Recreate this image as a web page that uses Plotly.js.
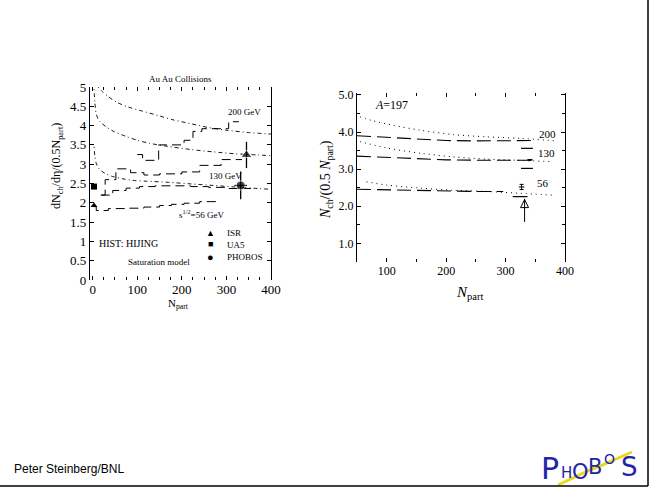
<!DOCTYPE html>
<html><head><meta charset="utf-8">
<script src="https://cdn.plot.ly/plotly-3.0.1.min.js"></script>
<style>html,body{margin:0;padding:0;background:#fff}#c{width:651px;height:488px}</style>
</head><body><div id="c"></div>
<script>
// ---------- Left panel: Au Au collisions ----------
const sat200X = [12, 20, 35, 55, 80, 110, 150, 180, 220, 260, 300, 350, 400];
const sat200Y = [5.0, 4.9, 4.75, 4.6, 4.48, 4.38, 4.25, 4.15, 4.05, 3.95, 3.88, 3.82, 3.78];
const sat130X = [3, 5, 8, 15, 30, 47, 75, 100, 128, 170, 220, 270, 320, 370, 400];
const sat130Y = [4.95, 4.6, 4.3, 4.12, 3.97, 3.85, 3.72, 3.62, 3.54, 3.46, 3.38, 3.32, 3.27, 3.24, 3.22];
const sat56X = [3, 5, 8, 13, 20, 30, 45, 68, 90, 120, 170, 220, 270, 320, 370, 400];
const sat56Y = [3.45, 3.2, 3.02, 2.9, 2.82, 2.75, 2.68, 2.62, 2.58, 2.56, 2.53, 2.49, 2.45, 2.41, 2.37, 2.35];
const hij56X = [2, 8, 35, 80, 115, 150, 177, 205, 240, 285];
const hij56Y = [1.9, 1.8, 1.85, 1.86, 1.89, 1.93, 1.96, 1.99, 2.03, 2.03];
const hijLowX = [18, 45, 75, 105, 140, 180, 220, 260, 300, 355];
const hijLowY = [2.2, 2.32, 2.38, 2.42, 2.44, 2.44, 2.42, 2.4, 2.37, 2.37];
const hij130X = [20, 28, 52, 85, 115, 150, 200, 240, 288, 335];
const hij130Y = [2.2, 2.6, 2.88, 2.78, 2.72, 2.75, 2.8, 2.97, 3.12, 3.12];
const hij200X = [100, 112, 148, 205, 225, 245, 305, 328];
const hij200Y = [3.25, 3.1, 3.5, 3.62, 3.85, 3.92, 4.1, 4.1];
const isrX = [3], isrY = [1.93];
const ua5X = [3], ua5Y = [2.42];
const phobosX = [345, 332], phobosY = [3.24, 2.45], phobosErrY = [0.34, 0.36], phobosErrX = [0, 14];
const leftXTicks = [0, 100, 200, 300, 400];

// ---------- Right panel: A = 197 ----------
const rSat200X = [55, 77, 111, 156, 212, 268, 324, 386];
const rSat200Y = [4.41, 4.3, 4.18, 4.05, 3.93, 3.87, 3.83, 3.76];
const rSat130X = [55, 100, 156, 212, 268, 318, 380];
const rSat130Y = [3.74, 3.57, 3.43, 3.33, 3.27, 3.24, 3.2];
const rSat56X = [66, 100, 156, 212, 268, 324, 380];
const rSat56Y = [2.66, 2.57, 2.49, 2.43, 2.4, 2.35, 2.3];
const rD200X = [50, 100, 150, 200, 250, 300, 346];
const rD200Y = [3.9, 3.85, 3.8, 3.77, 3.76, 3.76, 3.77];
const rD130X = [50, 100, 150, 200, 250, 300, 346];
const rD130Y = [3.35, 3.31, 3.28, 3.25, 3.24, 3.24, 3.24];
const rD56X = [50, 100, 150, 200, 250, 296];
const rD56Y = [2.46, 2.44, 2.42, 2.41, 2.4, 2.4];
const rBandX = [326, 346];
const rBand130Top = [3.56, 3.56], rBand130Bot = [3.02, 3.02];
const rBand56X = [312, 337], rBand56Y = [2.26, 2.26];
const rPointX = [341, 327], rPointY = [3.25, 2.52], rPointErr = [0, 0.07];
const arrowX = [332, 332], arrowY = [1.58, 2.2];
const arrowHeadX = [332], arrowHeadY = [2.18];
const energyLabels = ['200', '130', '56'];

const F = 'Liberation Serif, Times New Roman, serif';
const W = 651, H = 488;
const px = v => v / W, py = v => 1 - v / H;

function line(x, y, xa, ya, dash, width, shape) {
  return {x, y, xaxis: xa, yaxis: ya, type: 'scatter', mode: 'lines', hoverinfo: 'skip',
    line: {color: '#000', width: width || 1, dash: dash || 'solid', shape: shape || 'linear', smoothing: 0.8}};
}
const sd = '1px,3px,4px,3px';
const traces = [
  line(sat200X, sat200Y, 'x', 'y', sd, 0.9, 'spline'),
  line(sat130X, sat130Y, 'x', 'y', sd, 0.9, 'spline'),
  line(sat56X, sat56Y, 'x', 'y', sd, 0.9, 'spline'),
  line(hij56X, hij56Y, 'x', 'y', '9px,5px', 1, 'hv'),
  line(hijLowX, hijLowY, 'x', 'y', '9px,5px', 1, 'hv'),
  line(hij130X, hij130Y, 'x', 'y', '9px,5px', 1, 'hv'),
  line(hij200X, hij200Y, 'x', 'y', '9px,5px', 1, 'hv'),
  {x: isrX, y: isrY, type: 'scatter', mode: 'markers', marker: {symbol: 'triangle-up', size: 6, color: '#000'}},
  {x: ua5X, y: ua5Y, type: 'scatter', mode: 'markers', marker: {symbol: 'square', size: 6, color: '#000'}},
  {x: phobosX, y: phobosY, type: 'scatter', mode: 'markers',
    marker: {symbol: ['triangle-up', 'circle'], size: [10, 9], color: '#000'},
    error_y: {type: 'data', array: phobosErrY, visible: true, color: '#000', thickness: 1.3, width: 0},
    error_x: {type: 'data', array: phobosErrX, visible: true, color: '#000', thickness: 1.3, width: 0}},
  // right
  line(rSat200X, rSat200Y, 'x2', 'y2', '1px,4px', 1, 'spline'),
  line(rSat130X, rSat130Y, 'x2', 'y2', '1px,4px', 1, 'spline'),
  line(rSat56X, rSat56Y, 'x2', 'y2', '1px,4px', 1, 'spline'),
  line(rD200X, rD200Y, 'x2', 'y2', '14px,6px', 1.1),
  line(rD130X, rD130Y, 'x2', 'y2', '14px,6px', 1.1),
  line(rD56X, rD56Y, 'x2', 'y2', '14px,6px', 1.1),
  line(rBandX, rBand130Top, 'x2', 'y2', 'solid', 1.2),
  line(rBandX, rBand130Bot, 'x2', 'y2', 'solid', 1.2),
  line(rBand56X, rBand56Y, 'x2', 'y2', 'solid', 1.2),
  {x: rPointX, y: rPointY, xaxis: 'x2', yaxis: 'y2', type: 'scatter', mode: 'markers',
    marker: {symbol: 'line-ew', size: 4, color: '#000', line: {width: 1, color: '#000'}},
    error_y: {type: 'data', array: rPointErr, visible: true, color: '#000', thickness: 1, width: 2}},
  line(arrowX, arrowY, 'x2', 'y2', 'solid', 1),
  {x: arrowHeadX, y: arrowHeadY, xaxis: 'x2', yaxis: 'y2', type: 'scatter', mode: 'markers',
    marker: {symbol: 'arrow-up-open', size: 8, color: '#000', line: {width: 1, color: '#000'}}}
];

const ann = [];
function T(text, x, y, size, opt) {
  ann.push(Object.assign({text, x: px(x), y: py(y), xref: 'paper', yref: 'paper', showarrow: false,
    font: {family: F, size: size, color: '#000'}, xanchor: 'center', yanchor: 'middle'}, opt || {}));
}
T('Au Au Collisions', 180, 79, 9);
T('200 GeV', 244, 112, 9);
T('130 GeV', 226, 176, 9);
T('s<sup>1/2</sup>=56 GeV', 201, 214, 9);
T('HIST: HIJING', 128, 243, 10);
T('Saturation model', 159, 262, 9);
T('▲', 210, 233, 9); T('ISR', 225, 233, 9, {xanchor: 'left'});
T('■', 210, 244, 9); T('UA5', 225, 245, 9, {xanchor: 'left'});
T('●', 210, 257, 11); T('PHOBOS', 225, 257, 9, {xanchor: 'left'});
T('dN<sub>ch</sub>/dη/(0.5N<sub>part</sub>)', 57, 166, 12, {textangle: -90});
T('N<sub>part</sub>', 178, 304, 11);
// right panel
T('<i>A</i>=197', 391, 105, 12);
T(energyLabels[0], 547, 134, 11);
T(energyLabels[1], 546, 153, 11);
T(energyLabels[2], 543, 183, 11);
T('<i>N</i><sub>ch</sub>/(0.5 <i>N</i><sub>part</sub>)', 326, 180, 14, {textangle: -90});
T('<i>N</i><sub>part</sub>', 470, 293, 15);
// footer
ann.push({text: 'Peter Steinberg/BNL', x: px(12), y: py(469), xref: 'paper', yref: 'paper', showarrow: false,
  xanchor: 'left', yanchor: 'middle', font: {family: 'Liberation Sans, Arial, sans-serif', size: 12, color: '#000'}});
// logo letters
const logo = [['P', 550, 468, 30], ['H', 566, 473, 15], ['O', 580, 472, 21], ['B', 595, 467, 21], ['O', 609, 459, 14], ['S', 629, 467, 26]];
logo.forEach(l => ann.push({text: l[0], x: px(l[1]), y: py(l[2]), xref: 'paper', yref: 'paper', showarrow: false,
  xanchor: 'center', yanchor: 'middle', font: {family: 'DejaVu Sans, sans-serif', size: l[3], color: '#2424a8'}}));

const shapes = [
  {type: 'line', xref: 'paper', yref: 'paper', x0: px(648), x1: px(648), y0: py(0), y1: py(486), line: {color: '#000', width: 1.5}},
  {type: 'line', xref: 'paper', yref: 'paper', x0: px(0), x1: px(648), y0: py(486), y1: py(486), line: {color: '#000', width: 1.5}},
  {type: 'path', xref: 'paper', yref: 'paper', layer: 'below',
    path: `M ${px(558)} ${py(485)} L ${px(590)} ${py(470)} L ${px(600)} ${py(466)} L ${px(632)} ${py(452)}`,
    line: {color: '#e8d820', width: 3}}
];

const ax = (o) => Object.assign({showgrid: false, zeroline: false, ticks: 'inside', ticklen: 4, tickcolor: '#000',
  tickfont: {family: F, size: 13, color: '#000'}, linecolor: '#000', fixedrange: true}, o);

const layout = {
  width: W, height: H, margin: {l: 0, r: 0, t: 0, b: 0}, showlegend: false,
  paper_bgcolor: '#fff', plot_bgcolor: 'rgba(0,0,0,0)',
  xaxis: ax({domain: [px(90), px(271)], range: [-6, 400], tickvals: leftXTicks, showline: false, mirror: 'ticks',
    minor: {ticks: 'inside', dtick: 25, ticklen: 3, tickcolor: '#000'}, anchor: 'y'}),
  yaxis: ax({domain: [py(280), py(87)], range: [0, 5], dtick: 0.5, showline: true, linewidth: 1.2, mirror: 'ticks', anchor: 'x'}),
  xaxis2: ax({domain: [px(357), px(565)], range: [50, 400], dtick: 100, showline: false, mirror: 'ticks',
    tickfont: {family: F, size: 12, color: '#000'}, minor: {ticks: 'inside', dtick: 50, ticklen: 3, tickcolor: '#000'}, anchor: 'y2'}),
  yaxis2: ax({domain: [py(262), py(93)], range: [0.5, 5.05], tick0: 1, dtick: 1, tickformat: '.1f', showline: true, linewidth: 1.2,
    mirror: 'ticks', tickfont: {family: F, size: 12, color: '#000'},
    minor: {ticks: 'inside', dtick: 0.5, ticklen: 3, tickcolor: '#000'}, anchor: 'x2'}),
  annotations: ann, shapes: shapes
};
Plotly.newPlot('c', traces, layout, {staticPlot: true, displayModeBar: false});
</script></body></html>
